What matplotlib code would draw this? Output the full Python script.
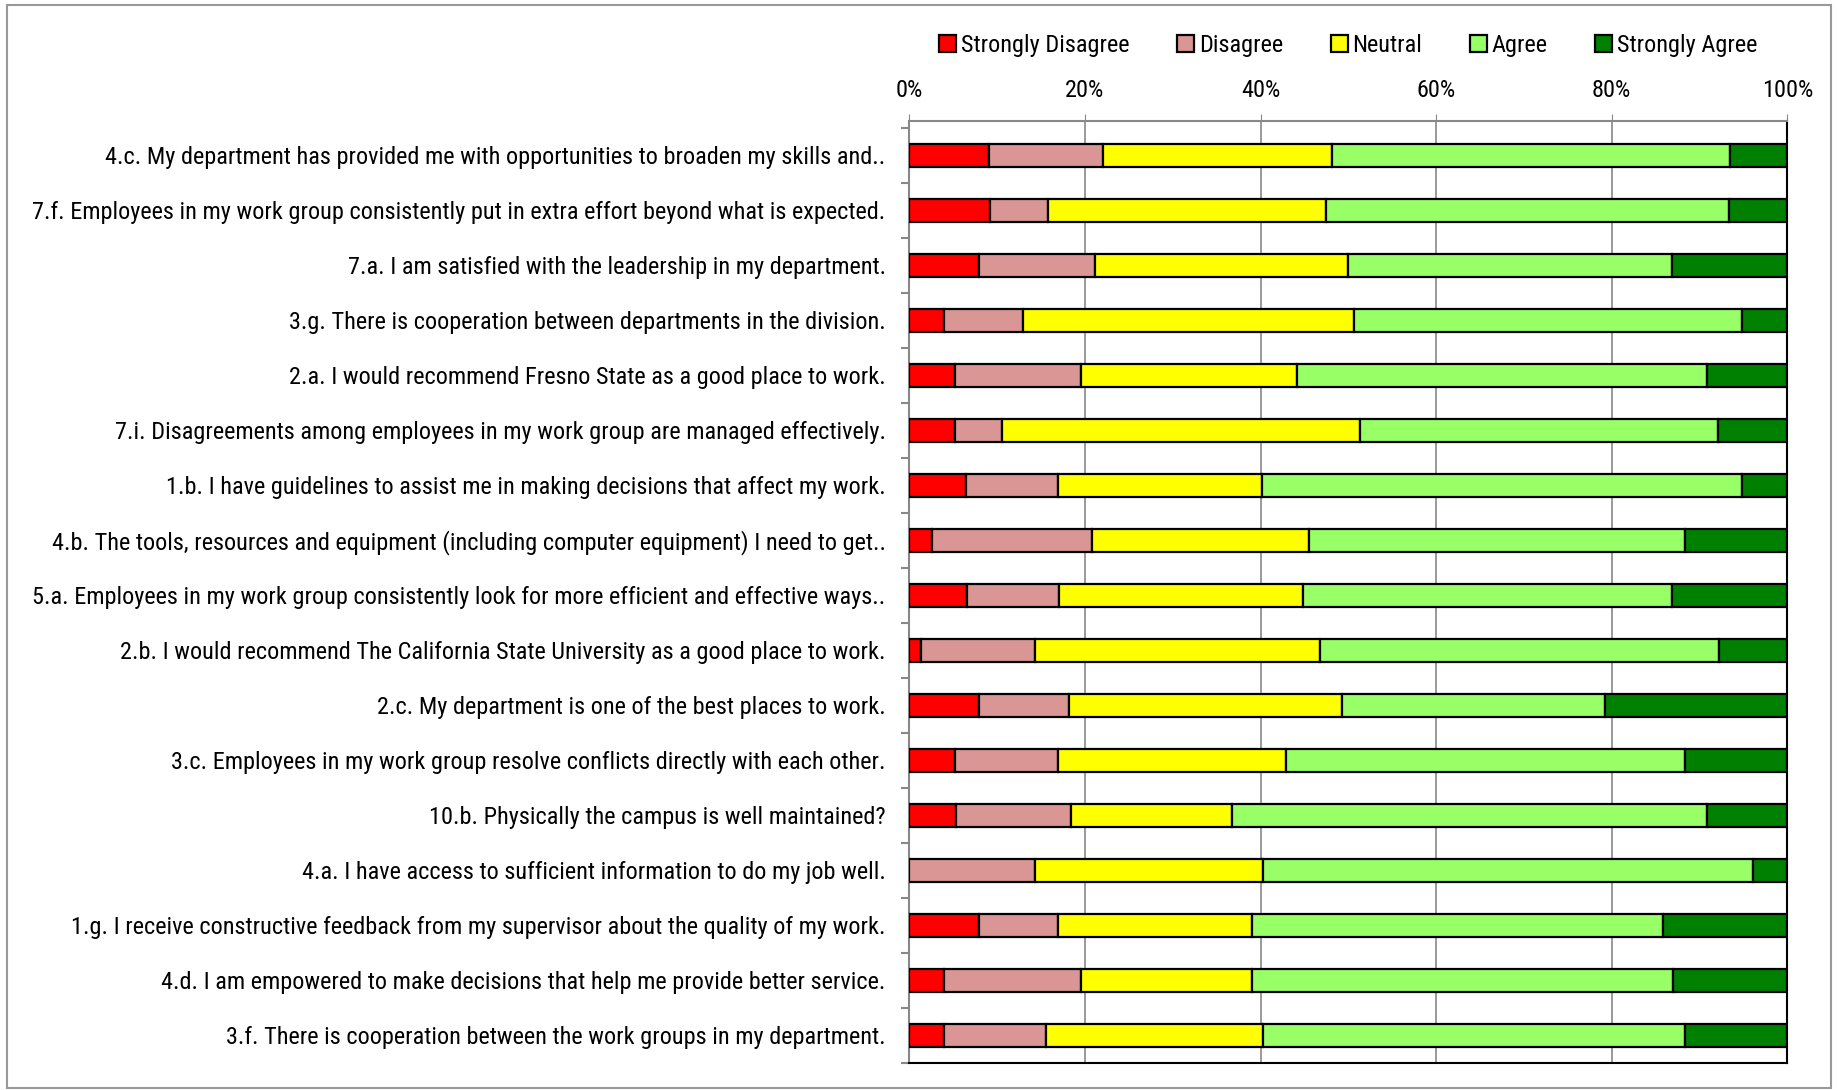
import numpy as np
import matplotlib
matplotlib.use("Agg")
import matplotlib.pyplot as plt
from matplotlib.patches import Rectangle
from matplotlib.ticker import MultipleLocator, PercentFormatter

plt.rcParams['font.family'] = ['Roboto Condensed', 'Archivo Narrow', 'Liberation Sans', 'DejaVu Sans']

questions = [
    "4.c. My department has provided me with opportunities to broaden my skills and..",
    "7.f. Employees in my work group consistently put in extra effort beyond what is expected.",
    "7.a. I am satisfied with the leadership in my department.",
    "3.g. There is cooperation between departments in the division.",
    "2.a. I would recommend Fresno State as a good place to work.",
    "7.i. Disagreements among employees in my work group are managed effectively.",
    "1.b. I have guidelines to assist me in making decisions that affect my work.",
    "4.b. The tools, resources and equipment (including computer equipment) I need to get..",
    "5.a. Employees in my work group consistently look for more efficient and effective ways..",
    "2.b. I would recommend The California State University as a good place to work.",
    "2.c. My department is one of the best places to work.",
    "3.c. Employees in my work group resolve conflicts directly with each other.",
    "10.b. Physically the campus is well maintained?",
    "4.a. I have access to sufficient information to do my job well.",
    "1.g. I receive constructive feedback from my supervisor about the quality of my work.",
    "4.d. I am empowered to make decisions that help me provide better service.",
    "3.f. There is cooperation between the work groups in my department.",
]

# percent of responses per question
strongly_disagree = [9.1, 9.2, 7.9, 3.9, 5.2, 5.2, 6.5, 2.6, 6.6, 1.3, 7.9, 5.2, 5.3, 0.0, 7.9, 3.9, 3.9]
disagree = [13.0, 6.6, 13.2, 9.1, 14.3, 5.4, 10.4, 18.2, 10.5, 13.0, 10.3, 11.7, 13.1, 14.3, 9.0, 15.6, 11.7]
neutral = [26.0, 31.6, 28.9, 37.6, 24.7, 40.7, 23.3, 24.7, 27.7, 32.5, 31.1, 26.0, 18.4, 26.0, 22.1, 19.5, 24.7]
agree = [45.4, 46.0, 36.9, 44.2, 46.7, 40.8, 54.6, 42.8, 42.1, 45.4, 29.9, 45.4, 54.0, 55.8, 46.8, 48.0, 48.0]
strongly_agree = [6.5, 6.6, 13.1, 5.2, 9.1, 7.9, 5.2, 11.7, 13.1, 7.8, 20.8, 11.7, 9.2, 3.9, 14.2, 13.0, 11.7]

series = ["Strongly Disagree", "Disagree", "Neutral", "Agree", "Strongly Agree"]
colors = ["#FF0000", "#D99694", "#FFFF00", "#99FF66", "#008000"]

fig = plt.figure(figsize=(18.37, 10.9), dpi=100)
ax = fig.add_axes([0.495, 0.025, 0.478, 0.864])

data = np.array([strongly_disagree, disagree, neutral, agree, strongly_agree])
data = data / data.sum(axis=0) * 100
y = np.arange(len(questions))
left = np.zeros(len(questions))
for vals, name, col in zip(data, series, colors):
    ax.barh(y, vals, left=left, height=0.42, color=col, edgecolor='black',
            linewidth=1.6, label=name, zorder=3)
    left += vals

ax.set_xlim(0, 100)
ax.set_ylim(len(questions) - 0.5, -0.62)
ax.xaxis.tick_top()
ax.xaxis.set_major_locator(MultipleLocator(20))
ax.xaxis.set_major_formatter(PercentFormatter(decimals=0))
ax.grid(axis='x', color='#888888', linewidth=1.2, zorder=0)
ax.tick_params(axis='x', length=5, color='#888888', labelsize=17.5, pad=9)

ax.set_yticks(y)
ax.set_yticklabels(questions, fontsize=17.5)
ax.set_yticks(np.arange(len(questions) + 1) - 0.5, minor=True)
ax.tick_params(axis='y', which='major', length=0, pad=17)
ax.tick_params(axis='y', which='minor', length=6, width=1.5, color='#888888')

for s in ['left', 'top']:
    ax.spines[s].set_color('#888888')
    ax.spines[s].set_linewidth(1.5)
for s in ['right', 'bottom']:
    ax.spines[s].set_color('black')
    ax.spines[s].set_linewidth(1.5)

fig.legend(loc='center', bbox_to_anchor=(0.734, 0.958), ncol=5, frameon=False,
           fontsize=17.5, handlelength=0.7, handleheight=0.7, handletextpad=0.2,
           columnspacing=1.95)

fig.patches.append(Rectangle((0.004, 0.002), 0.993, 0.993, transform=fig.transFigure,
                             fill=False, edgecolor='#999999', linewidth=1.5))

fig.savefig("out.png", dpi=100)
